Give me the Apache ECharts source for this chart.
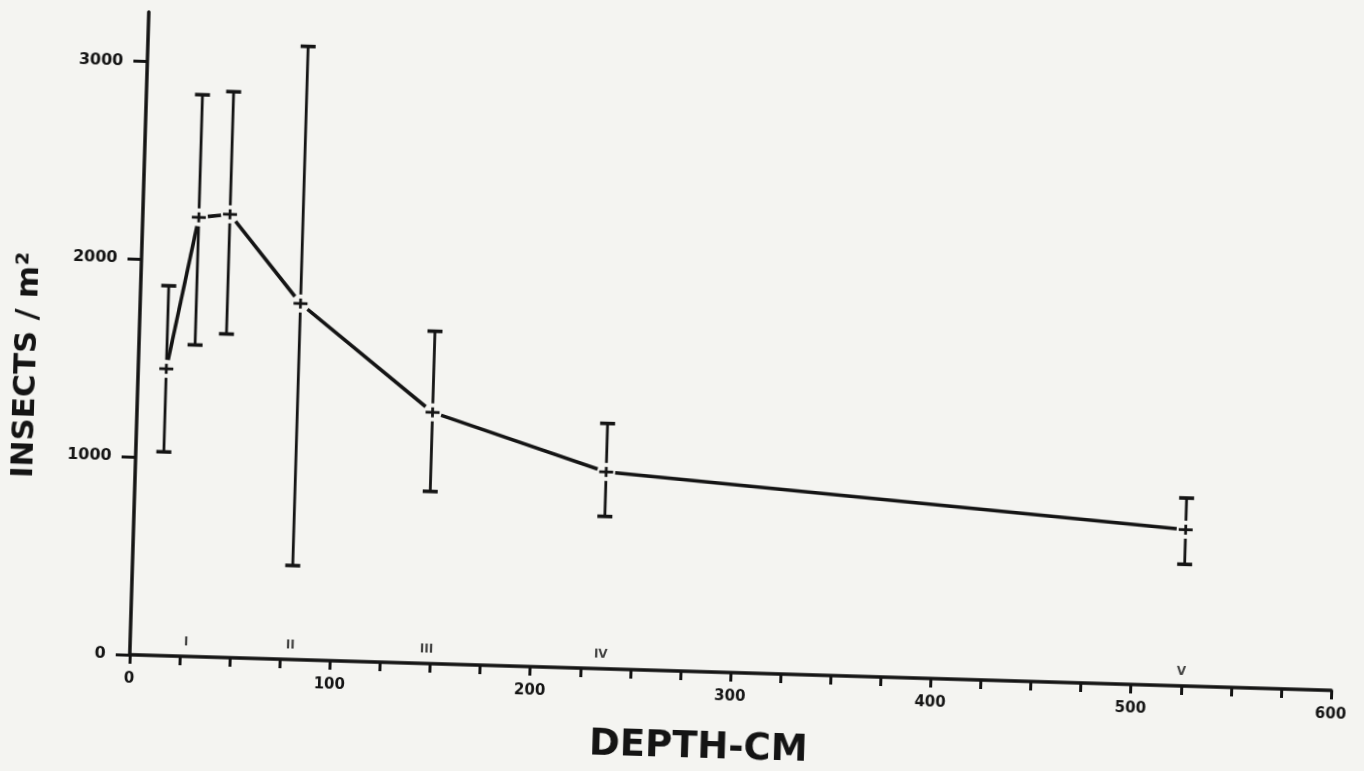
<!DOCTYPE html>
<html>
<head>
<meta charset="utf-8">
<script src="https://cdn.jsdelivr.net/npm/echarts@6/dist/echarts.min.js"></script>
<style>
  html, body { margin: 0; padding: 0; background: #f4f4f1; overflow: hidden; }
  #chart { width: 1364px; height: 771px; transform: rotate(1.7deg); transform-origin: 682px 385px; }
</style>
</head>
<body>
<div id="chart"></div>
<script>
// ---- data ----
const depthCm   = [14, 28, 43.5, 80, 147.5, 235, 525];
const insects   = [1450, 2220, 2240, 1800, 1270, 995, 790];
const upperErr  = [1870, 2840, 2860, 3100, 1680, 1240, 950];
const lowerErr  = [1030, 1575, 1635, 475, 870, 770, 615];
const stationDepth  = [28, 80, 148, 235, 525];
const stationLabels = ['I', 'II', 'III', 'IV', 'V'];
const xTickLabels = [0, 100, 200, 300, 400, 500, 600];
const yTickLabels = [0, 1000, 2000, 3000];

const INK = '#141414';
const FONT = "'DejaVu Sans', sans-serif";

const segData = [];
for (let i = 0; i < depthCm.length - 1; i++) {
  segData.push([depthCm[i], insects[i], depthCm[i + 1], insects[i + 1]]);
}
const barData = depthCm.map((d, i) => [d, insects[i], lowerErr[i], upperErr[i]]);
const stationData = stationDepth.map((d) => [d, 0]);

const chart = echarts.init(document.getElementById('chart'), null, { renderer: 'canvas' });

chart.setOption({
  backgroundColor: 'transparent',
  animation: false,
  grid: { left: 138, right: 24, top: 28, bottom: 100, containLabel: false },
  xAxis: {
    type: 'value', min: 0, max: 600, interval: 25,
    name: 'DEPTH-CM', nameLocation: 'middle', nameGap: 58,
    nameTextStyle: { fontFamily: FONT, fontWeight: 'bold', fontSize: 37, color: INK, padding: [0, 60, 0, 0] },
    axisLine: { lineStyle: { color: INK, width: 3.5 } },
    axisTick: { show: true, length: 9, lineStyle: { color: INK, width: 3 } },
    axisLabel: {
      customValues: xTickLabels,
      formatter: (v) => String(v),
      fontFamily: FONT, fontWeight: 'bold', fontSize: 15, color: INK, margin: 17
    },
    splitLine: { show: false }
  },
  yAxis: {
    type: 'value', min: 0, max: 3250,
    name: 'INSECTS / m²', nameLocation: 'middle', nameGap: 96, nameRotate: 90,
    nameTextStyle: { fontFamily: FONT, fontWeight: 'bold', fontSize: 31, color: INK, padding: [0, 70, 0, 0] },
    axisLine: { show: true, lineStyle: { color: INK, width: 3.5 } },
    axisTick: { show: true, customValues: yTickLabels, length: 14, lineStyle: { color: INK, width: 3 } },
    axisLabel: {
      customValues: yTickLabels,
      formatter: (v) => String(v),
      fontFamily: FONT, fontWeight: 'bold', fontSize: 16, color: INK, margin: 24
    },
    splitLine: { show: false }
  },
  series: [
    {
      name: 'mean line',
      type: 'custom',
      data: segData,
      encode: { x: [0, 2], y: [1, 3] },
      renderItem: function (params, api) {
        const p1 = api.coord([api.value(0), api.value(1)]);
        const p2 = api.coord([api.value(2), api.value(3)]);
        const dx = p2[0] - p1[0], dy = p2[1] - p1[1];
        const len = Math.sqrt(dx * dx + dy * dy);
        const g = Math.min(9, len * 0.3);
        const ux = dx / len, uy = dy / len;
        return {
          type: 'line',
          shape: { x1: p1[0] + ux * g, y1: p1[1] + uy * g, x2: p2[0] - ux * g, y2: p2[1] - uy * g },
          style: { stroke: INK, lineWidth: 3.6, lineCap: 'butt' }
        };
      },
      z: 3
    },
    {
      name: 'error bars',
      type: 'custom',
      data: barData,
      encode: { x: 0, y: [1, 2, 3] },
      renderItem: function (params, api) {
        const c = api.coord([api.value(0), api.value(1)]);
        const lo = api.coord([api.value(0), api.value(2)]);
        const hi = api.coord([api.value(0), api.value(3)]);
        const cap = 7.5, gap = 9, arm = 7;
        const st = { stroke: INK, lineWidth: 2.8 };
        return {
          type: 'group',
          children: [
            { type: 'line', shape: { x1: c[0], y1: hi[1], x2: c[0], y2: c[1] - gap }, style: st },
            { type: 'line', shape: { x1: c[0], y1: c[1] + gap, x2: c[0], y2: lo[1] }, style: st },
            { type: 'line', shape: { x1: c[0] - cap, y1: hi[1], x2: c[0] + cap, y2: hi[1] }, style: { stroke: INK, lineWidth: 3.6 } },
            { type: 'line', shape: { x1: c[0] - cap, y1: lo[1], x2: c[0] + cap, y2: lo[1] }, style: { stroke: INK, lineWidth: 3.6 } },
            { type: 'line', shape: { x1: c[0] - arm, y1: c[1], x2: c[0] + arm, y2: c[1] }, style: st },
            { type: 'line', shape: { x1: c[0], y1: c[1] - 5, x2: c[0], y2: c[1] + 5 }, style: st }
          ]
        };
      },
      z: 4
    },
    {
      name: 'stations',
      type: 'scatter',
      data: stationData,
      symbolSize: 1,
      itemStyle: { color: 'rgba(0,0,0,0)' },
      label: {
        show: true, position: 'top', distance: 8,
        formatter: (p) => stationLabels[p.dataIndex],
        fontFamily: FONT, fontWeight: 'bold', fontSize: 12, color: INK
      },
      z: 5
    }
  ]
});
</script>
</body>
</html>
